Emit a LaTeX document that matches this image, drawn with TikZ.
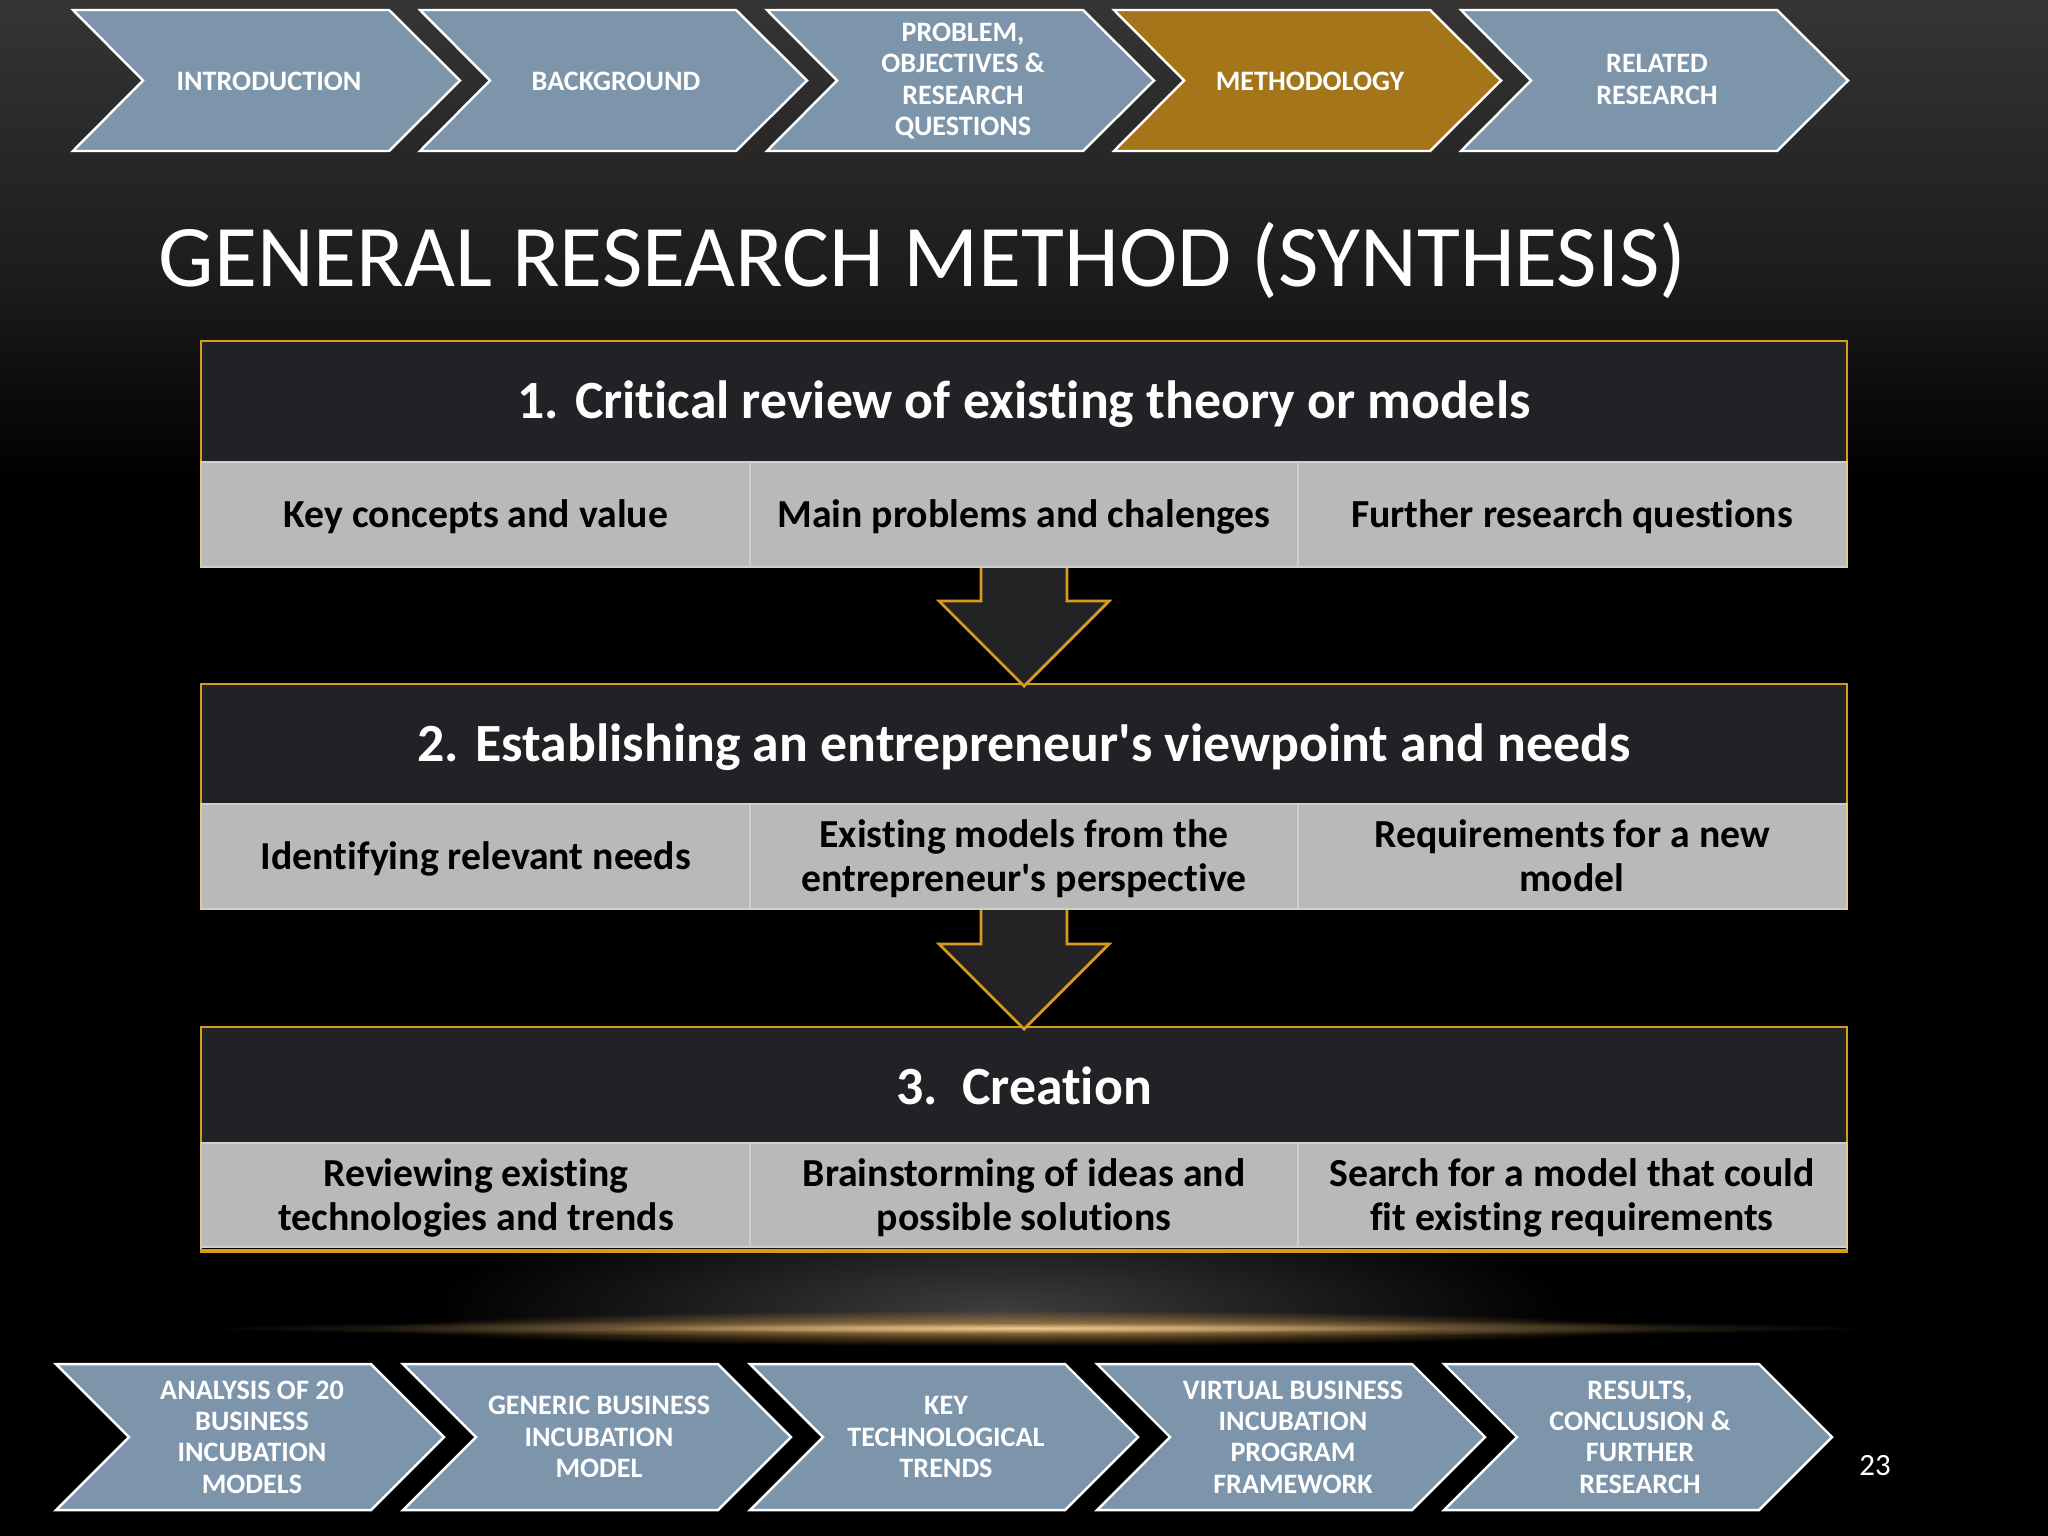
\documentclass[tikz,border=0pt]{standalone}
\usepackage{fontspec}
\usetikzlibrary{fadings}
\newfontfamily\carl{Carlito}[Ligatures=NoCommon]
\definecolor{chevblue}{HTML}{7C95AB}
\definecolor{chevgold}{HTML}{A5751A}
\definecolor{headdark}{HTML}{202226}
\definecolor{cellgray}{HTML}{B9B9B9}
\definecolor{celledge}{HTML}{CFCFCF}
\definecolor{goldline}{HTML}{D99B1E}
\definecolor{paleedge}{HTML}{E3C98A}
\definecolor{arrowfill}{HTML}{232325}
\definecolor{bgtop}{HTML}{353535}
\definecolor{bgmid}{HTML}{1C1C1C}
\definecolor{glowgray}{HTML}{3E3E3E}
\definecolor{glowhalo}{HTML}{B08040}
\definecolor{glowtail}{HTML}{8A7248}
\definecolor{glowcore}{HTML}{F0CC8C}
\tikzfading[name=softglow,inner color=transparent!0,outer color=transparent!100]
\tikzset{
  x=0.01cm,y=-0.01cm,
  glowfill/.style={path fading=softglow,draw=none},
  chevshape/.style={draw=white,line width=0.7pt,miter limit=10},
  chevtext/.style={text=white,font=\carl\fontsize{8.0}{8.9}\selectfont\bfseries,align=center,inner sep=0pt,execute at begin node=\strut,execute at end node=\strut},
  headbox/.style={fill=headdark,draw=goldline,line width=0.8pt},
  headtext/.style={text=white,font=\carl\fontsize{15.3}{18}\selectfont\bfseries,align=center,inner sep=0pt,execute at begin node=\strut,execute at end node=\strut},
  cellbox/.style={fill=cellgray,draw=celledge,line width=0.6pt},
  celltext/.style={text=black,font=\carl\fontsize{11.3}{12.45}\selectfont\bfseries,align=center,inner sep=0pt,execute at begin node=\strut,execute at end node=\strut},
  blockarrow/.style={fill=arrowfill,draw=goldline,line width=0.8pt,line join=miter},
  sideedge/.style={draw=paleedge,line width=0.7pt},
  titletext/.style={text=white,font=\carl\fontsize{25}{28}\selectfont,anchor=base west,inner sep=0pt},
  pagenum/.style={text=white,font=\carl\fontsize{8.8}{10}\selectfont,inner sep=0pt},
}
\newcommand{\chevdy}{0}
% #1 name, #2 left x, #3 top y, #4 bottom y, #5 notch depth, #6 point depth, #7 width, #8 fill, #9 text
\newcommand{\chevron}[9]{%
  \draw[chevshape,fill=#8] (#2,#3) -- ({#2+#7-#6},#3) -- ({#2+#7},{(#3+#4)/2}) -- ({#2+#7-#6},#4) -- (#2,#4) -- ({#2+#5},{(#3+#4)/2}) -- cycle;
  \node[chevtext] (#1) at ({#2+197-1},{(#3+#4)/2+\chevdy}) {#9};
}
\begin{document}
\begin{tikzpicture}
\useasboundingbox (0,0) rectangle (2048,1536);
\fill[black] (0,0) rectangle (2048,1536);
\shade[top color=bgtop,bottom color=bgmid] (0,0) rectangle (2048,280);
\shade[top color=bgmid,bottom color=black] (0,280) rectangle (2048,480);
% glow
\begin{scope}
\clip (0,1240) rectangle (2048,1330);
\fill[glowgray,glowfill] (430,1190) rectangle (1570,1430);
\end{scope}
\fill[glowhalo,glowfill] (380,1310) rectangle (1660,1346);
\fill[glowtail,glowfill] (200,1320) rectangle (1880,1336);
\fill[glowcore,glowfill] (600,1323) rectangle (1450,1333);
% top chevrons
\renewcommand{\chevdy}{3.5}
\chevron{ta}{73}{10}{151}{70}{71}{387}{chevblue}{INTRODUCTION}
\chevron{tb}{420}{10}{151}{70}{71}{387}{chevblue}{BACKGROUND}
\chevron{tc}{767}{10}{151}{70}{71}{387}{chevblue}{PROBLEM,\\OBJECTIVES \&\\RESEARCH\\QUESTIONS}
\chevron{td}{1114}{10}{151}{70}{71}{387}{chevgold}{METHODOLOGY}
\chevron{te}{1461}{10}{151}{70}{71}{387}{chevblue}{RELATED\\RESEARCH}
% title
\node[titletext] (title) at (158,286) {GENERAL RESEARCH METHOD (SYNTHESIS)};
% table 1
\draw[headbox] (201,341) rectangle (1847,462);
\node[headtext] (h1) at (1024,405.5) {1. Critical review of existing theory or models};
\draw[cellbox] (201,462) rectangle (750,567);
\draw[cellbox] (750,462) rectangle (1298,567);
\draw[cellbox] (1298,462) rectangle (1847,567);
\draw[sideedge] (201,462) -- (201,567) (1847,462) -- (1847,567);
\node[celltext] (c11) at (476,518.5) {Key concepts and value};
\node[celltext] (c12) at (1024,518.5) {Main problems and chalenges};
\node[celltext] (c13) at (1572,518.5) {Further research questions};
% table 2
\draw[headbox] (201,684) rectangle (1847,804);
\node[headtext] (h2) at (1024,748.5) {2. Establishing an entrepreneur's viewpoint and needs};
\draw[cellbox] (201,804) rectangle (750,909);
\draw[cellbox] (750,804) rectangle (1298,909);
\draw[cellbox] (1298,804) rectangle (1847,909);
\draw[sideedge] (201,804) -- (201,909) (1847,804) -- (1847,909);
\node[celltext] (c21) at (476,860.5) {Identifying relevant needs};
\node[celltext] (c22) at (1024,862) {Existing models from the\\entrepreneur's perspective};
\node[celltext] (c23) at (1572,862) {Requirements for a new\\model};
% table 3
\draw[headbox] (201,1027) rectangle (1847,1143);
\node[headtext] (h3) at (1024,1091.5) {3.\ \ Creation};
\draw[cellbox] (201,1143) rectangle (750,1247);
\draw[cellbox] (750,1143) rectangle (1298,1247);
\draw[cellbox] (1298,1143) rectangle (1847,1247);
\draw[sideedge] (201,1143) -- (201,1251) (1847,1143) -- (1847,1251);
\draw[goldline,line width=0.9pt] (200,1251) -- (1848,1251);
\node[celltext] (c31) at (476,1201) {Reviewing existing\\technologies and trends};
\node[celltext] (c32) at (1024,1201) {Brainstorming of ideas and\\possible solutions};
\node[celltext] (c33) at (1572,1201) {Search for a model that could\\fit existing requirements};
% arrows, whose tips lie over the next table's top edge
\draw[blockarrow] (981,568) -- (981,601) -- (939,601) -- (1024,686) -- (1109,601) -- (1067,601) -- (1067,568);
\draw[blockarrow] (981,910) -- (981,944) -- (939,944) -- (1024,1029) -- (1109,944) -- (1067,944) -- (1067,910);
% bottom chevrons
\renewcommand{\chevdy}{4.7}
\chevron{ba}{56}{1364}{1510}{73}{73}{388}{chevblue}{ANALYSIS OF 20\\BUSINESS\\INCUBATION\\MODELS}
\chevron{bb}{403}{1364}{1510}{73}{73}{388}{chevblue}{GENERIC BUSINESS\\INCUBATION\\MODEL}
\chevron{bc}{750}{1364}{1510}{73}{73}{388}{chevblue}{KEY\\TECHNOLOGICAL\\TRENDS}
\chevron{bd}{1097}{1364}{1510}{73}{73}{388}{chevblue}{VIRTUAL BUSINESS\\INCUBATION\\PROGRAM\\FRAMEWORK}
\chevron{be}{1444}{1364}{1510}{73}{73}{388}{chevblue}{RESULTS,\\CONCLUSION \&\\FURTHER\\RESEARCH}
\node[pagenum] (page) at (1875,1466) {23};
\end{tikzpicture}
\end{document}
